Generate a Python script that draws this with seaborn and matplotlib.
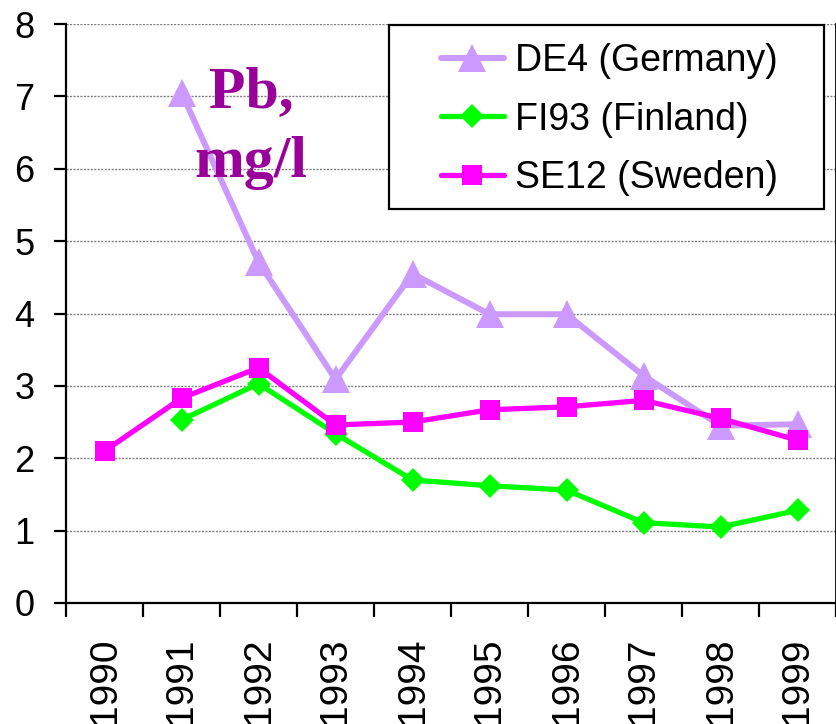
import numpy as np
import pandas as pd
import matplotlib
matplotlib.use('Agg')
import matplotlib.pyplot as plt
import matplotlib.patches as mpatches
from matplotlib.ticker import MultipleLocator
import seaborn as sns

# 数据
years = [1990, 1991, 1992, 1993, 1994, 1995, 1996, 1997, 1998, 1999]
de4 = [np.nan, 7.05, 4.71, 3.09, 4.55, 3.99, 3.99, 3.14, 2.45, 2.47]
fi93 = [np.nan, 2.53, 3.03, 2.34, 1.70, 1.62, 1.56, 1.11, 1.05, 1.28]
se12 = [2.10, 2.83, 3.25, 2.46, 2.50, 2.67, 2.71, 2.80, 2.55, 2.25]
series_names = ['DE4 (Germany)', 'FI93 (Finland)', 'SE12 (Sweden)']
y_ticks = [0, 1, 2, 3, 4, 5, 6, 7, 8]

sns.set_theme(style='white')
plt.rcParams['font.family'] = ['Liberation Sans', 'DejaVu Sans']
plt.rcParams['text.color'] = 'black'

df = pd.DataFrame({'year': years, series_names[0]: de4,
                   series_names[1]: fi93, series_names[2]: se12})

fig = plt.figure(figsize=(8.37, 7.24), dpi=100)
ax = fig.add_axes([66 / 837, 121 / 724, 770 / 837, 579 / 724])

# 每条线的样式
styles = {
    series_names[0]: dict(color='#CC99FF', marker='^', markersize=20, linewidth=4.3),
    series_names[1]: dict(color='#00FF00', marker='D', markersize=12, linewidth=3.8),
    series_names[2]: dict(color='#FF00FF', marker='s', markersize=14.5, linewidth=3.8),
}
for name in series_names:
    st = styles[name]
    sns.lineplot(data=df, x='year', y=name, ax=ax, label=name,
                 color=st['color'], marker=st['marker'], markersize=st['markersize'],
                 linewidth=st['linewidth'], markeredgewidth=0)

ax.set_xlim(years[0] - 0.5, years[-1] + 0.5)
ax.set_ylim(y_ticks[0], y_ticks[-1])
ax.set_xticks(years)
ax.set_xticklabels([str(y) for y in years], rotation=90)
ax.set_yticks(y_ticks)
ax.xaxis.set_minor_locator(MultipleLocator(1, offset=0.5))
ax.set_xlabel('')
ax.set_ylabel('')

# 网格线
ax.set_axisbelow(True)
ax.grid(axis='y', color='#808080', linestyle=(0, (1.5, 1)), linewidth=1)
ax.grid(axis='x', visible=False)

# 坐标轴
for s in ['left', 'bottom', 'right']:
    ax.spines[s].set_visible(True)
    ax.spines[s].set_color('black')
ax.spines['left'].set_linewidth(1.6)
ax.spines['bottom'].set_linewidth(1.6)
ax.spines['right'].set_linewidth(1.3)
ax.spines['top'].set_visible(False)

ax.tick_params(axis='y', which='major', direction='out', length=8.6, width=1.6,
               color='black', labelcolor='black', labelsize=26, pad=14, left=True)
ax.tick_params(axis='x', which='major', length=0, labelsize=28, pad=25,
               labelcolor='black', bottom=True)
ax.tick_params(axis='x', which='minor', direction='out', length=10, width=1.6,
               color='black', bottom=True)

# 图例
leg = ax.legend(loc='upper left', bbox_to_anchor=(441 / 837, 1 - 43 / 724),
                bbox_transform=fig.transFigure, frameon=False, fontsize=27,
                borderpad=0, labelspacing=0.6, handlelength=1.68, handletextpad=0.29,
                borderaxespad=0)
for t in leg.get_texts():
    t.set_color('black')
box = mpatches.Rectangle((389 / 837, 1 - 209 / 724), 435 / 837, 184 / 724,
                         transform=fig.transFigure, facecolor='white',
                         edgecolor='black', linewidth=1.6, zorder=4, clip_on=False)
ax.add_patch(box)

# 标注
fig.text(251 / 837, 1 - 107 / 724, 'Pb,', ha='center', va='baseline',
         fontsize=43, fontweight='bold', color='#990099',
         family=['Liberation Serif', 'DejaVu Serif'])
fig.text(251 / 837, 1 - 177 / 724, 'mg/l', ha='center', va='baseline',
         fontsize=43, fontweight='bold', color='#990099',
         family=['Liberation Serif', 'DejaVu Serif'])

fig.savefig('out.png', dpi=100)
